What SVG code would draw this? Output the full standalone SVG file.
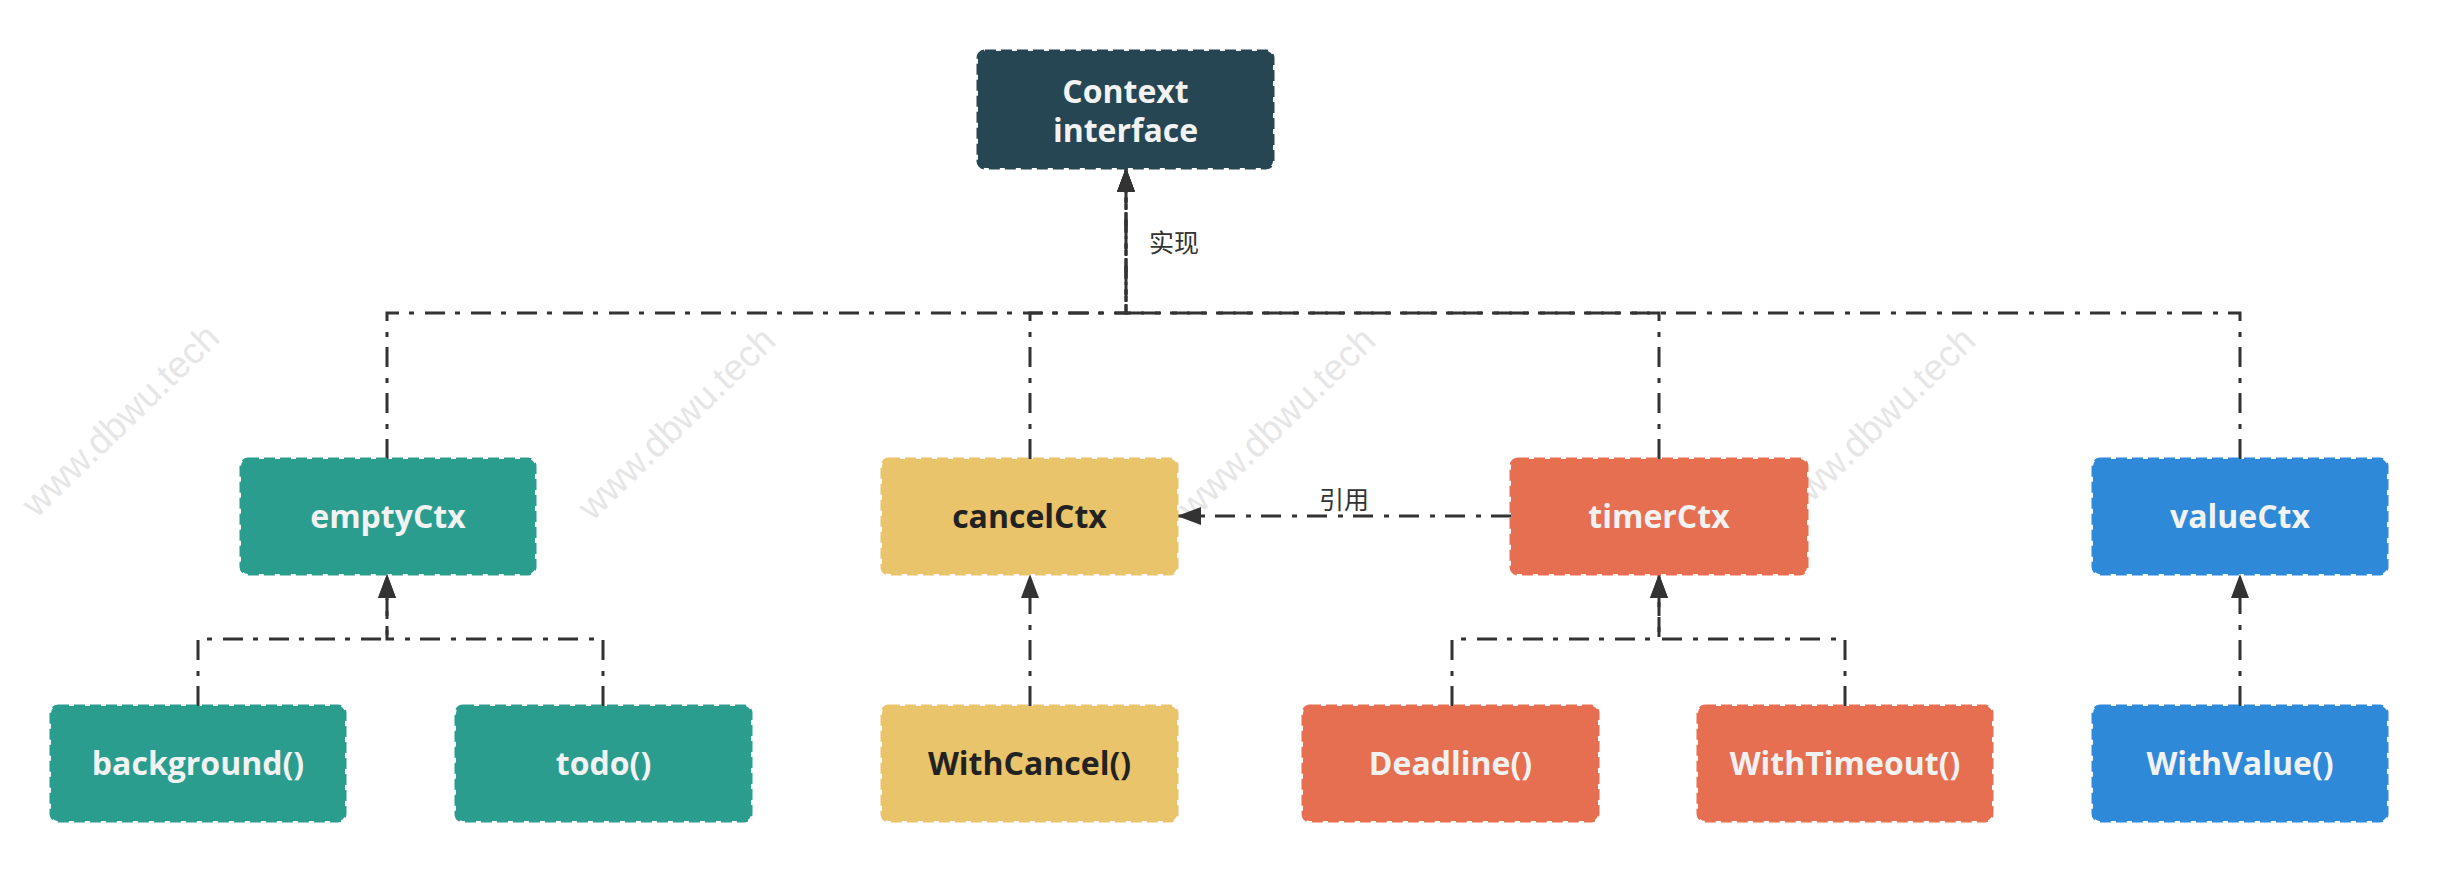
<svg xmlns="http://www.w3.org/2000/svg" width="2438" height="874" viewBox="0 0 2438 874">
<style>
.wm{font-family:"Liberation Sans",Arial,sans-serif;font-size:37px;fill:#e6e6e6;text-anchor:middle}
.box{stroke-width:3;stroke-dasharray:11 5}
.lbl{font-family:"Open Sans","Noto Sans",sans-serif;font-weight:700;font-size:32px;text-anchor:middle}
.lt{fill:#f2f2f2}
.dk{fill:#222222}
.edge{fill:none;stroke:#333333;stroke-width:3;stroke-dasharray:20 10 5 11}
.elbl{font-family:"Noto Sans CJK SC","Noto Sans",sans-serif;font-size:25px;fill:#333333}
.teal{fill:#2a9d8f;stroke:#2a9d8f}
.yel{fill:#e9c46a;stroke:#e9c46a}
.org{fill:#e76f51;stroke:#e76f51}
.blu{fill:#2e89d9;stroke:#2e89d9}
.navy{fill:#264653;stroke:#264653}
</style>
<defs>
<marker id="arr" markerUnits="userSpaceOnUse" markerWidth="26" markerHeight="20" refX="24" refY="9" orient="auto">
<path d="M0,0 L24,9 L0,18 Z" fill="#333333"/>
</marker>
</defs>
<rect width="2438" height="874" fill="#ffffff"/>
<g id="watermarks">
<text class="wm" transform="translate(120,420) rotate(-44)" x="0" y="13">www.dbwu.tech</text>
<text class="wm" transform="translate(676,423) rotate(-44)" x="0" y="13">www.dbwu.tech</text>
<text class="wm" transform="translate(1276,423) rotate(-44)" x="0" y="13">www.dbwu.tech</text>
<text class="wm" transform="translate(1876,423) rotate(-44)" x="0" y="13">www.dbwu.tech</text>
</g>
<g id="connectors">
<path class="edge" d="M387,459 V313 H1126 V168" marker-end="url(#arr)"/>
<path class="edge" d="M1030,459 V313 H1126 V168" marker-end="url(#arr)"/>
<path class="edge" d="M1659,459 V313 H1126 V168" marker-end="url(#arr)"/>
<path class="edge" d="M2240,459 V313 H1126 V168" marker-end="url(#arr)"/>
<path class="edge" d="M198,706 V639 H387 V574" marker-end="url(#arr)"/>
<path class="edge" d="M603,706 V639 H387 V574" marker-end="url(#arr)"/>
<path class="edge" d="M1030,706 V574" marker-end="url(#arr)"/>
<path class="edge" d="M1452,706 V639 H1659 V574" marker-end="url(#arr)"/>
<path class="edge" d="M1845,706 V639 H1659 V574" marker-end="url(#arr)"/>
<path class="edge" d="M2240,706 V574" marker-end="url(#arr)"/>
<path class="edge" d="M1511,516 H1177" marker-end="url(#arr)"/>
<text class="elbl" x="1149" y="252">实现</text>
<text class="elbl" x="1319" y="509">引用</text>
</g>
<g id="context">
<rect class="box navy" x="978" y="51" width="295" height="117" rx="7"/>
<text class="lbl lt" x="1125.5" y="103">Context</text>
<text class="lbl lt" x="1125.5" y="142">interface</text>
</g>
<g id="emptyCtx">
<rect class="box teal" x="241" y="459" width="294" height="115" rx="7"/>
<text class="lbl lt" x="388" y="528">emptyCtx</text>
</g>
<g id="cancelCtx">
<rect class="box yel" x="882" y="459" width="295" height="115" rx="7"/>
<text class="lbl dk" x="1029.5" y="528">cancelCtx</text>
</g>
<g id="timerCtx">
<rect class="box org" x="1511" y="459" width="296" height="115" rx="7"/>
<text class="lbl lt" x="1659" y="528">timerCtx</text>
</g>
<g id="valueCtx">
<rect class="box blu" x="2093" y="459" width="294" height="115" rx="7"/>
<text class="lbl lt" x="2240" y="528">valueCtx</text>
</g>
<g id="background">
<rect class="box teal" x="51" y="706" width="294" height="115" rx="7"/>
<text class="lbl lt" x="198" y="775">background()</text>
</g>
<g id="todo">
<rect class="box teal" x="456" y="706" width="295" height="115" rx="7"/>
<text class="lbl lt" x="603.5" y="775">todo()</text>
</g>
<g id="WithCancel">
<rect class="box yel" x="882" y="706" width="295" height="115" rx="7"/>
<text class="lbl dk" x="1029.5" y="775">WithCancel()</text>
</g>
<g id="Deadline">
<rect class="box org" x="1303" y="706" width="295" height="115" rx="7"/>
<text class="lbl lt" x="1450.5" y="775">Deadline()</text>
</g>
<g id="WithTimeout">
<rect class="box org" x="1698" y="706" width="294" height="115" rx="7"/>
<text class="lbl lt" x="1845" y="775">WithTimeout()</text>
</g>
<g id="WithValue">
<rect class="box blu" x="2093" y="706" width="294" height="115" rx="7"/>
<text class="lbl lt" x="2240" y="775">WithValue()</text>
</g>
</svg>
